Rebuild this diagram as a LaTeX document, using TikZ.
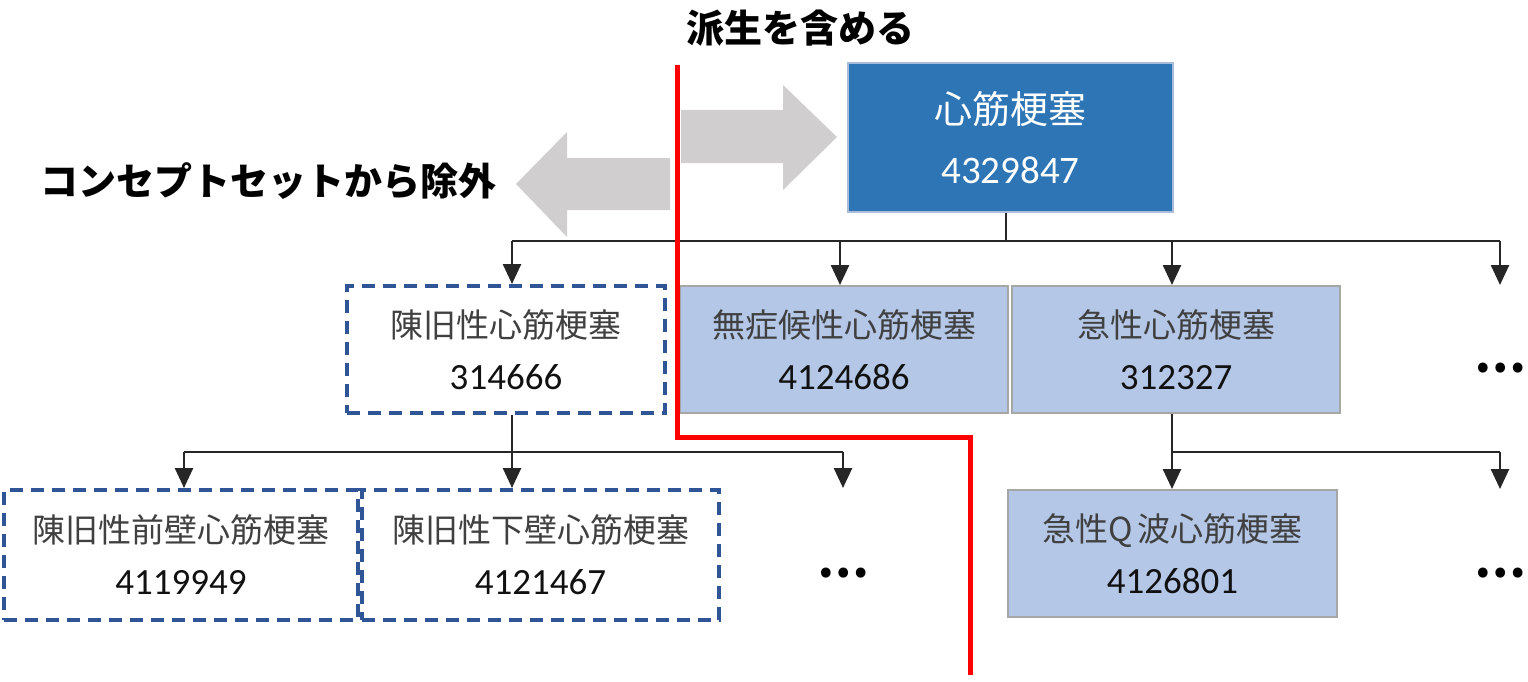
\documentclass[tikz,border=0pt]{standalone}
\usepackage{fontspec}
\usetikzlibrary{arrows.meta}
\newfontfamily\jp{Noto Sans CJK JP}
\newfontfamily\numf{Carlito}
\definecolor{topblue}{HTML}{2E75B6}
\definecolor{topedge}{HTML}{A9BCD9}
\definecolor{lightblue}{HTML}{B4C7E7}
\definecolor{dashblue}{HTML}{2F5597}
\definecolor{arrowgray}{HTML}{D0CECE}
\definecolor{boxedge}{HTML}{A6A6A6}
\definecolor{txtgray}{HTML}{404040}
\definecolor{numblack}{HTML}{111111}
\newcommand{\cbox}[2]{{\jp #1}\\{\numf\fontsize{37}{40}\selectfont\color{numblack}#2}}
\newcommand{\tboxtext}[2]{{\jp #1}\\{\numf\fontsize{39}{40}\selectfont #2}}
\tikzset{
  basebox/.style={rectangle, inner sep=0pt, align=center},
  lbox/.style={basebox, draw=boxedge, line width=2pt, fill=lightblue, text=txtgray,
    font=\fontsize{33}{52}\selectfont},
  dbox/.style={basebox, draw=dashblue, line width=4pt, dash pattern=on 13pt off 8pt,
    fill=white, text=txtgray, font=\fontsize{33}{52}\selectfont},
  tbox/.style={basebox, draw=topedge, line width=2.5pt, fill=topblue, text=white,
    font=\fontsize{38}{60}\selectfont},
  conn/.style={line width=2.6pt, draw=black!85},
  arr/.style={conn, -{Triangle[width=18pt,length=20pt]}},
  dots/.style={font=\jp\bfseries\fontsize{46}{50}\selectfont, inner sep=0pt},
  heading/.style={font=\jp\bfseries\fontsize{38}{44}\selectfont, inner sep=0pt},
  bigarrow/.style={fill=arrowgray},
  cut/.style={draw=red, line width=5pt}
}
\begin{document}
\begin{tikzpicture}[x=1pt,y=-1pt]
\useasboundingbox (0,0) rectangle (1528,682);

% headings
\node[heading] (ttl) at (800,28) {派生を含める};
\node[heading] (excl) at (268,181) {コンセプトセットから除外};

% gray arrows
\fill[bigarrow] (681,110) -- (783,110) -- (783,85) -- (837,137) -- (783,190) -- (783,163) -- (681,163) -- cycle;
\fill[bigarrow] (670,158) -- (567,158) -- (567,132) -- (516,184) -- (567,237) -- (567,210) -- (670,210) -- cycle;

% boxes
\node[tbox, minimum width=325pt, minimum height=149pt] (top) at (1010.5,137.5) {\tboxtext{心筋梗塞}{4329847}};
\node[dbox, minimum width=318pt, minimum height=127pt] (chron) at (506,349.5) {\cbox{陳旧性心筋梗塞}{314666}};
\node[lbox, minimum width=328pt, minimum height=127pt] (asym) at (844,349.5) {\cbox{無症候性心筋梗塞}{4124686}};
\node[lbox, minimum width=328pt, minimum height=127pt] (acute) at (1176,349.5) {\cbox{急性心筋梗塞}{312327}};
\node[dbox, minimum width=354pt, minimum height=130pt] (ant) at (181,555) {\cbox{陳旧性前壁心筋梗塞}{4119949}};
\node[dbox, minimum width=357pt, minimum height=130pt] (inf) at (540.5,555) {\cbox{陳旧性下壁心筋梗塞}{4121467}};
\node[lbox, minimum width=329pt, minimum height=127pt] (qw) at (1172.5,553.5) {\cbox{急性Q\,波心筋梗塞}{4126801}};

% ellipses
\node[dots] (d1) at (1500,368) {…};
\node[dots] (d2) at (843,573) {…};
\node[dots] (d3) at (1500,573) {…};

% level 1 connectors
\coordinate (b0) at (1006,241);
\coordinate (b1) at (512,241);
\coordinate (b2) at (840,241);
\coordinate (b3) at (1172,241);
\coordinate (b4) at (1500,241);
\draw[conn] (b0 |- top.south) -- (b0);
\draw[conn] (b1) -- (b4);
\draw[arr] (b1) -- (b1 |- chron.north);
\draw[arr] (b2) -- (b2 |- asym.north);
\draw[arr] (b3) -- (b3 |- acute.north);
\draw[arr] (b4) -- (b4 |- acute.north);

% level 2 connectors (chronic)
\coordinate (c0) at (512,452);
\coordinate (c1) at (184,452);
\coordinate (c2) at (843,452);
\draw[conn] (c0 |- chron.south) -- (c0);
\draw[conn] (c1) -- (c2);
\draw[arr] (c1) -- (c1 |- ant.north);
\draw[arr] (c0) -- (c0 |- inf.north);
\draw[arr] (c2) -- (c2 |- inf.north);

% level 2 connectors (acute)
\coordinate (e0) at (1172,452);
\coordinate (e1) at (1500,452);
\draw[conn] (e0 |- acute.south) -- (e0);
\draw[conn] (e0) -- (e1);
\draw[arr] (e0) -- (e0 |- qw.north);
\draw[arr] (e1) -- (e1 |- qw.north);

% red boundary
\coordinate (r0) at (677,65);
\coordinate (r1) at (677,437);
\coordinate (r2) at (970,437);
\coordinate (r3) at (970,675);
\draw[cut] (r0) -- (r1) -- (r2) -- (r3);
\end{tikzpicture}
\end{document}
